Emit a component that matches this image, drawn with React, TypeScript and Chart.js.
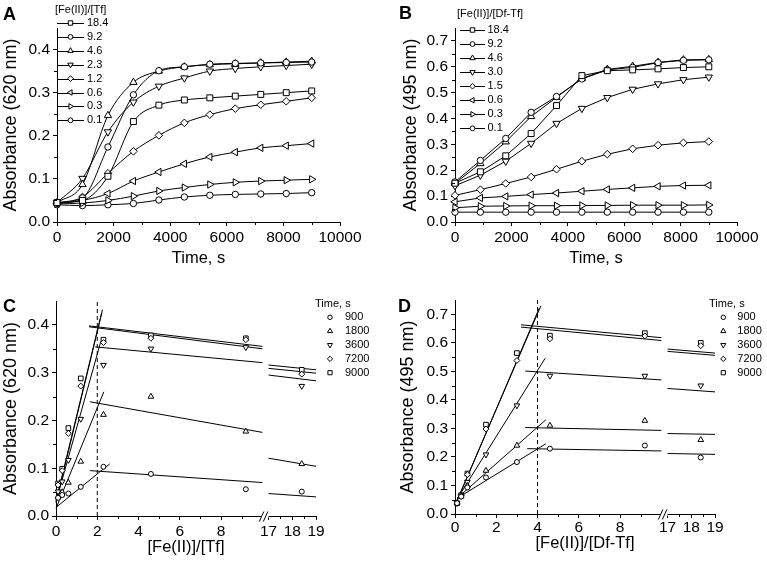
import React, { useEffect, useRef } from 'react';
import { Chart, registerables } from 'chart.js';

Chart.register(...registerables);

const FONT = '"Liberation Sans", Arial, Helvetica, sans-serif';

// ---------------- Panel A : Absorbance (620 nm) vs time, Tf ----------------
const timesA = [0, 900, 1800, 2700, 3600, 4500, 5400, 6300, 7200, 8100, 9000];
const ratiosA = ['18.4', '9.2', '4.6', '2.3', '1.2', '0.6', '0.3', '0.1'];
const a184 = [0.045, 0.05, 0.106, 0.233, 0.271, 0.283, 0.288, 0.292, 0.296, 0.3, 0.304];
const a92 = [0.045, 0.056, 0.174, 0.295, 0.351, 0.36, 0.366, 0.368, 0.369, 0.37, 0.371];
const a46 = [0.045, 0.087, 0.247, 0.324, 0.35, 0.36, 0.365, 0.367, 0.369, 0.371, 0.373];
const a23 = [0.045, 0.101, 0.209, 0.278, 0.315, 0.334, 0.35, 0.356, 0.36, 0.363, 0.366];
const a12 = [0.044, 0.058, 0.113, 0.164, 0.201, 0.23, 0.249, 0.263, 0.272, 0.28, 0.288];
const a06 = [0.043, 0.05, 0.066, 0.095, 0.116, 0.135, 0.151, 0.162, 0.172, 0.177, 0.182];
const a03 = [0.042, 0.044, 0.05, 0.06, 0.072, 0.08, 0.087, 0.092, 0.095, 0.097, 0.099];
const a01 = [0.04, 0.038, 0.04, 0.043, 0.051, 0.058, 0.062, 0.064, 0.065, 0.066, 0.068];

// ---------------- Panel B : Absorbance (495 nm) vs time, Df-Tf ----------------
const timesB = [0, 900, 1800, 2700, 3600, 4500, 5400, 6300, 7200, 8100, 9000];
const ratiosB = ['18.4', '9.2', '4.6', '3.0', '1.5', '0.6', '0.3', '0.1'];
const b184 = [0.15, 0.194, 0.256, 0.342, 0.45, 0.566, 0.585, 0.588, 0.592, 0.597, 0.6];
const b92 = [0.155, 0.238, 0.323, 0.424, 0.485, 0.553, 0.588, 0.598, 0.616, 0.625, 0.627];
const b46 = [0.15, 0.226, 0.31, 0.408, 0.482, 0.555, 0.59, 0.602, 0.617, 0.627, 0.628];
const b30 = [0.14, 0.181, 0.235, 0.304, 0.381, 0.439, 0.481, 0.513, 0.534, 0.55, 0.56];
const b15 = [0.103, 0.125, 0.149, 0.174, 0.204, 0.235, 0.262, 0.283, 0.297, 0.306, 0.311];
const b06 = [0.078, 0.093, 0.099, 0.106, 0.112, 0.119, 0.126, 0.132, 0.138, 0.141, 0.142];
const b03 = [0.055, 0.061, 0.062, 0.063, 0.063, 0.064, 0.064, 0.065, 0.065, 0.065, 0.066];
const b01 = [0.038, 0.038, 0.038, 0.038, 0.038, 0.038, 0.038, 0.038, 0.038, 0.038, 0.038];

// ---------------- Panel C : Absorbance (620 nm) vs [Fe(II)]/[Tf] ----------------
const timeLabels = ['900', '1800', '3600', '7200', '9000'];
const ratiosC = [0.1, 0.3, 0.6, 1.2, 2.3, 4.6, 9.2, 18.4];
const c900 = [0.038, 0.044, 0.047, 0.061, 0.103, 0.088, 0.056, 0.051];
const c1800 = [0.04, 0.05, 0.07, 0.114, 0.212, 0.25, 0.177, 0.109];
const c3600 = [0.051, 0.072, 0.117, 0.203, 0.316, 0.35, 0.353, 0.272];
const c7200 = [0.065, 0.095, 0.173, 0.272, 0.363, 0.372, 0.369, 0.297];
const c9000 = [0.068, 0.099, 0.184, 0.288, 0.369, 0.378, 0.372, 0.306];
// fitted lines (per time, order 900,1800,3600,7200,9000)
const cRiseX0 = [0, 0, 0, 0, 0];
const cRiseY0 = [0.018, 0.016, 0.03, 0.028, 0.032];
const cRiseX1 = [2.6, 2.32, 2.17, 2.22, 2.25];
const cRiseY1 = [0.109, 0.26, 0.365, 0.425, 0.432];
const cPlatX0 = [1.65, 1.65, 1.9, 1.6, 1.6];
const cPlatY0 = [0.095, 0.239, 0.354, 0.396, 0.398];
const cPlatY10 = [0.07, 0.175, 0.321, 0.35, 0.355];
const cTailY17 = [0.047, 0.121, 0.295, 0.309, 0.316];
const cTailY19 = [0.04, 0.104, 0.283, 0.299, 0.306];
const cEquivalence = 2;

// ---------------- Panel D : Absorbance (495 nm) vs [Fe(II)]/[Df-Tf] ----------------
const ratiosD = [0.1, 0.3, 0.6, 1.5, 3.0, 4.6, 9.2, 18.4];
const d900 = [0.038, 0.061, 0.093, 0.128, 0.182, 0.229, 0.24, 0.198];
const d1800 = [0.038, 0.062, 0.099, 0.152, 0.24, 0.31, 0.327, 0.26];
const d3600 = [0.038, 0.063, 0.112, 0.208, 0.38, 0.484, 0.484, 0.45];
const d7200 = [0.038, 0.065, 0.138, 0.298, 0.538, 0.614, 0.624, 0.59];
const d9000 = [0.038, 0.066, 0.142, 0.313, 0.564, 0.625, 0.634, 0.6];
const dRiseX0 = [0.1, 0.1, 0.1, 0.1, 0.1];
const dRiseY0 = [0.055, 0.055, 0.052, 0.045, 0.048];
const dRiseX1 = [4.4, 4.4, 4.37, 4.08, 4.16];
const dRiseY1 = [0.246, 0.33, 0.546, 0.721, 0.729];
const dPlatX0 = [3.5, 3.4, 3.4, 3.2, 3.2];
const dPlatY0 = [0.229, 0.303, 0.501, 0.655, 0.663];
const dPlatY10 = [0.221, 0.293, 0.47, 0.608, 0.618];
const dTailY17 = [0.212, 0.282, 0.44, 0.57, 0.578];
const dTailY19 = [0.209, 0.279, 0.428, 0.556, 0.564];
const dEquivalence = 4;

// ---------------- axis ticks ----------------
const timeTicks = [0, 2000, 4000, 6000, 8000, 10000];
const timeMinor = [1000, 3000, 5000, 7000, 9000];
const yTicks045 = [0, 0.1, 0.2, 0.3, 0.4];
const yMinor045 = [0.05, 0.15, 0.25, 0.35];
const yTicks075 = [0, 0.1, 0.2, 0.3, 0.4, 0.5, 0.6, 0.7];
const yMinor075 = [0.05, 0.15, 0.25, 0.35, 0.45, 0.55, 0.65];
const ratioTicks = [0, 2, 4, 6, 8, 17, 18, 19];
const ratioMinor = [1, 3, 5, 7, 9, 17.5, 18.5];

// broken axis: 0..10 then 17..19
const BREAK_LO = 10;
const BREAK_HI = 17;
const GAP = 0.3;
const K2 = 1.15;
const tx = (x: number) => (x <= BREAK_LO ? x : BREAK_LO + GAP + (x - BREAK_HI) * K2);

type Marker = 'circle' | 'square' | 'up' | 'down' | 'left' | 'right' | 'diamond';
const MK: Record<Marker, { style: string; rot: number; r: number }> = {
  circle: { style: 'circle', rot: 0, r: 3.2 },
  square: { style: 'rect', rot: 0, r: 4.2 },
  up: { style: 'triangle', rot: 0, r: 4.2 },
  down: { style: 'triangle', rot: 180, r: 4.2 },
  left: { style: 'triangle', rot: 270, r: 4.2 },
  right: { style: 'triangle', rot: 90, r: 4.2 },
  diamond: { style: 'rectRot', rot: 0, r: 3.8 },
};
const markersAB: Marker[] = ['square', 'circle', 'up', 'down', 'diamond', 'left', 'right', 'circle'];
const markersCD: Marker[] = ['circle', 'up', 'down', 'diamond', 'square'];

function drawMarker(ctx: CanvasRenderingContext2D, m: Marker, x: number, y: number, k: number) {
  const spec = MK[m];
  const r = spec.r * k;
  ctx.beginPath();
  if (spec.style === 'circle') ctx.arc(x, y, r, 0, Math.PI * 2);
  else if (spec.style === 'rect') {
    const s = r * Math.SQRT1_2;
    ctx.rect(x - s, y - s, 2 * s, 2 * s);
  } else if (spec.style === 'rectRot') {
    ctx.moveTo(x - r, y);
    ctx.lineTo(x, y - r);
    ctx.lineTo(x + r, y);
    ctx.lineTo(x, y + r);
    ctx.closePath();
  } else {
    let a = (spec.rot * Math.PI) / 180;
    for (let i = 0; i < 3; i++) {
      const px = x + Math.sin(a) * r;
      const py = y - Math.cos(a) * r;
      if (i === 0) ctx.moveTo(px, py);
      else ctx.lineTo(px, py);
      a += (2 * Math.PI) / 3;
    }
    ctx.closePath();
  }
  ctx.fillStyle = '#fff';
  ctx.fill();
  ctx.strokeStyle = '#000';
  ctx.lineWidth = 1;
  ctx.stroke();
}

const decor = {
  id: 'decor',
  afterDraw(chart: any, _args: any, o: any) {
    const ctx: CanvasRenderingContext2D = chart.ctx;
    const area = chart.chartArea;
    const xs = chart.scales.x;
    const ys = chart.scales.y;
    ctx.save();
    ctx.strokeStyle = '#000';
    ctx.lineWidth = 1;
    const seg = (x0: number, y0: number, x1: number, y1: number) => {
      ctx.beginPath();
      ctx.moveTo(x0, y0);
      ctx.lineTo(x1, y1);
      ctx.stroke();
    };
    for (const v of o.minorX || []) {
      const p = Math.round(xs.getPixelForValue(v)) + 0.5;
      seg(p, area.bottom, p, area.bottom + 3);
    }
    for (const v of o.minorY || []) {
      const p = Math.round(ys.getPixelForValue(v)) + 0.5;
      seg(area.left - 3, p, area.left, p);
    }
    if (o.breakAxis) {
      const a = xs.getPixelForValue(BREAK_LO);
      const b = xs.getPixelForValue(tx(BREAK_HI));
      ctx.fillStyle = '#fff';
      ctx.fillRect(a - 1, area.bottom - 2, b - a + 1, 4);
      const yb = Math.round(area.bottom) + 0.5;
      seg(a - 3, yb + 5, a + 1.5, yb - 5);
      seg(a + 1, yb + 5, a + 5.5, yb - 5);
    }
    if (o.letter) {
      ctx.fillStyle = '#000';
      ctx.font = `bold 18px ${FONT}`;
      ctx.textBaseline = 'alphabetic';
      ctx.textAlign = 'left';
      ctx.fillText(o.letter.text, o.letter.x, o.letter.y);
    }
    const L = o.legend;
    if (L) {
      ctx.font = `11px ${FONT}`;
      ctx.textBaseline = 'middle';
      ctx.textAlign = 'left';
      ctx.fillStyle = '#000';
      ctx.fillText(L.title, L.titleX, L.titleY);
      L.labels.forEach((lab: string, i: number) => {
        const y = L.y0 + i * L.dy;
        if (L.lineX0 != null) {
          const yy = Math.round(y) + 0.5;
          seg(L.lineX0, yy, L.lineX1, yy);
        }
        drawMarker(ctx, L.markers[i], L.markerX, y, L.k);
        ctx.fillStyle = '#000';
        ctx.fillText(lab, L.labelX, y);
      });
    }
    ctx.restore();
  },
};

function scales(p: any) {
  return {
    x: {
      type: 'linear',
      min: p.xMin,
      max: p.xMax,
      afterBuildTicks: (s: any) => {
        s.ticks = p.xTicks.map((v: number) => ({ value: v }));
      },
      afterFit: (s: any) => {
        s.height = p.xHeight;
      },
      ticks: {
        autoSkip: false,
        maxRotation: 0,
        minRotation: 0,
        padding: p.xTickPad,
        color: '#000',
        font: { family: FONT, size: 15.5 },
        callback: (_v: any, i: number) => p.xLabels[i],
      },
      grid: { drawOnChartArea: false, drawTicks: true, tickLength: 4, tickColor: '#000', tickWidth: 1 },
      border: { display: true, color: '#000', width: 1 },
      title: {
        display: true,
        text: p.xTitle,
        color: '#000',
        font: { family: FONT, size: 16.5 },
        padding: { top: 0, bottom: p.xTitlePad },
      },
    },
    y: {
      type: 'linear',
      min: 0,
      max: p.yMax,
      afterBuildTicks: (s: any) => {
        s.ticks = p.yTicks.map((v: number) => ({ value: v }));
      },
      afterFit: (s: any) => {
        s.width = p.yWidth;
      },
      ticks: {
        autoSkip: false,
        padding: 3,
        color: '#000',
        font: { family: FONT, size: 15.5 },
        callback: (v: any) => Number(v).toFixed(1),
      },
      grid: { drawOnChartArea: false, drawTicks: true, tickLength: 4, tickColor: '#000', tickWidth: 1 },
      border: { display: true, color: '#000', width: 1 },
      title: {
        display: true,
        text: p.yTitle,
        color: '#000',
        font: { family: FONT, size: 18 },
        padding: { top: p.yTitlePad, bottom: 0 },
      },
    },
  };
}

function baseOptions(p: any, decorOpts: any) {
  return {
    animation: false,
    responsive: false,
    events: [],
    layout: { padding: { left: 0, top: p.padTop, right: p.padRight, bottom: 0 } },
    plugins: { legend: { display: false }, tooltip: { enabled: false }, decor: decorOpts },
    scales: scales(p),
  };
}

function pointOpts(m: Marker, k: number) {
  const s = MK[m];
  return {
    pointStyle: s.style,
    pointRotation: s.rot,
    pointRadius: s.r * k,
    pointBackgroundColor: '#fff',
    pointBorderColor: '#000',
    pointBorderWidth: 1,
    pointHoverRadius: s.r * k,
  };
}

function timeConfig(times: number[], series: number[][], labels: string[], smooth: boolean, p: any, d: any) {
  const datasets = series.map((arr, i) => ({
    label: labels[i],
    data: times.map((t, j) => ({ x: t, y: arr[j] })),
    showLine: true,
    borderColor: '#000',
    borderWidth: 1,
    cubicInterpolationMode: smooth ? 'monotone' : 'default',
    tension: 0,
    clip: false,
    ...pointOpts(markersAB[i], 1),
  }));
  return { type: 'line', data: { datasets }, options: baseOptions(p, d), plugins: [decor] };
}

function ratioConfig(ratios: number[], series: number[][], fit: any, eqX: number, yMax: number, p: any, d: any) {
  const marks = series.map((arr, i) => ({
    label: timeLabels[i],
    data: ratios.map((r, j) => ({ x: tx(r), y: arr[j] })),
    showLine: false,
    clip: false,
    ...pointOpts(markersCD[i], 0.78),
  }));
  const lineDs = (pts: { x: number; y: number }[]) => ({
    data: pts,
    showLine: true,
    borderColor: '#000',
    borderWidth: 1,
    pointRadius: 0,
    pointHoverRadius: 0,
    clip: false,
  });
  const fits: any[] = [];
  series.forEach((_a, i) => {
    fits.push(lineDs([{ x: fit.rx0[i], y: fit.ry0[i] }, { x: fit.rx1[i], y: fit.ry1[i] }]));
    fits.push(lineDs([{ x: fit.px0[i], y: fit.py0[i] }, { x: BREAK_LO, y: fit.py10[i] }]));
    fits.push(lineDs([{ x: tx(17), y: fit.ty17[i] }, { x: tx(19), y: fit.ty19[i] }]));
  });
  const dash = { ...lineDs([{ x: eqX, y: 0 }, { x: eqX, y: yMax }]), borderDash: [4, 3] };
  return {
    type: 'line',
    data: { datasets: [...marks, ...fits, dash] },
    options: baseOptions(p, d),
    plugins: [decor],
  };
}

function Panel({ left, top, width, height, build }: any) {
  const ref = useRef<HTMLCanvasElement>(null);
  useEffect(() => {
    const chart = new Chart(ref.current as HTMLCanvasElement, build());
    return () => chart.destroy();
  }, []);
  return (
    <canvas
      ref={ref}
      width={width}
      height={height}
      style={{ position: 'absolute', left, top, width, height }}
    />
  );
}

const buildA = () =>
  timeConfig(
    timesA,
    [a184, a92, a46, a23, a12, a06, a03, a01],
    ratiosA,
    true,
    {
      xMin: 0, xMax: 10000, xTicks: timeTicks, xLabels: timeTicks.map(String),
      yMax: 0.45, yTicks: yTicks045, yWidth: 57, xHeight: 58, padTop: 28, padRight: 44,
      xTitle: 'Time, s', yTitle: 'Absorbance (620 nm)', xTitlePad: 12, yTitlePad: 0, xTickPad: 2,
    },
    {
      minorX: timeMinor, minorY: yMinor045,
      letter: { text: 'A', x: 3, y: 20 },
      legend: {
        title: '[Fe(II)]/[Tf]', titleX: 55, titleY: 10, labels: ratiosA, markers: markersAB,
        y0: 23, dy: 13.9, lineX0: 57, lineX1: 84, markerX: 70.5, labelX: 87, k: 0.75,
      },
    }
  );

const buildB = () =>
  timeConfig(
    timesB,
    [b184, b92, b46, b30, b15, b06, b03, b01],
    ratiosB,
    false,
    {
      xMin: 0, xMax: 10000, xTicks: timeTicks, xLabels: timeTicks.map(String),
      yMax: 0.75, yTicks: yTicks075, yWidth: 71, xHeight: 58, padTop: 28, padRight: 30,
      xTitle: 'Time, s', yTitle: 'Absorbance (495 nm)', xTitlePad: 12, yTitlePad: 16, xTickPad: 2,
    },
    {
      minorX: timeMinor, minorY: yMinor075,
      letter: { text: 'B', x: 15, y: 19 },
      legend: {
        title: '[Fe(II)]/[Df-Tf]', titleX: 73, titleY: 14, labels: ratiosB, markers: markersAB,
        y0: 30, dy: 14.05, lineX0: 76, lineX1: 101, markerX: 88.5, labelX: 103.5, k: 0.75,
      },
    }
  );

const ratioTickPos = ratioTicks.map(tx);
const ratioMinorPos = ratioMinor.map(tx);

const buildC = () =>
  ratioConfig(
    ratiosC,
    [c900, c1800, c3600, c7200, c9000],
    { rx0: cRiseX0, ry0: cRiseY0, rx1: cRiseX1, ry1: cRiseY1, px0: cPlatX0, py0: cPlatY0, py10: cPlatY10, ty17: cTailY17, ty19: cTailY19 },
    cEquivalence,
    0.45,
    {
      xMin: 0, xMax: tx(19), xTicks: ratioTickPos, xLabels: ratioTicks.map(String),
      yMax: 0.45, yTicks: yTicks045, yWidth: 56, xHeight: 45, padTop: 21, padRight: 68,
      xTitle: '[Fe(II)]/[Tf]', yTitle: 'Absorbance (620 nm)', xTitlePad: 4, yTitlePad: 0, xTickPad: 2,
    },
    {
      minorX: ratioMinorPos, minorY: yMinor045, breakAxis: true,
      letter: { text: 'C', x: 3, y: 31.5 },
      legend: {
        title: 'Time, s', titleX: 315, titleY: 24, labels: timeLabels, markers: markersCD,
        y0: 37.3, dy: 13.85, markerX: 330, labelX: 345, k: 0.7,
      },
    }
  );

const buildD = () =>
  ratioConfig(
    ratiosD,
    [d900, d1800, d3600, d7200, d9000],
    { rx0: dRiseX0, ry0: dRiseY0, rx1: dRiseX1, ry1: dRiseY1, px0: dPlatX0, py0: dPlatY0, py10: dPlatY10, ty17: dTailY17, ty19: dTailY19 },
    dEquivalence,
    0.75,
    {
      xMin: 0, xMax: tx(19), xTicks: ratioTickPos, xLabels: ratioTicks.map(String),
      yMax: 0.75, yTicks: yTicks075, yWidth: 71, xHeight: 47, padTop: 20, padRight: 52,
      xTitle: '[Fe(II)]/[Df-Tf]', yTitle: 'Absorbance (495 nm)', xTitlePad: 8, yTitlePad: 13, xTickPad: 0,
    },
    {
      minorX: ratioMinorPos, minorY: yMinor075, breakAxis: true,
      letter: { text: 'D', x: 14, y: 31.5 },
      legend: {
        title: 'Time, s', titleX: 325, titleY: 24.3, labels: timeLabels, markers: markersCD,
        y0: 37.3, dy: 13.85, markerX: 339.3, labelX: 353.3, k: 0.7,
      },
    }
  );

export default function App() {
  return (
    <div style={{ position: 'absolute', left: 0, top: 0, width: 767, height: 561, background: '#fff', overflow: 'hidden' }}>
      <Panel left={0} top={0} width={384} height={280} build={buildA} />
      <Panel left={384} top={0} width={383} height={280} build={buildB} />
      <Panel left={0} top={280} width={384} height={281} build={buildC} />
      <Panel left={384} top={280} width={383} height={281} build={buildD} />
    </div>
  );
}
